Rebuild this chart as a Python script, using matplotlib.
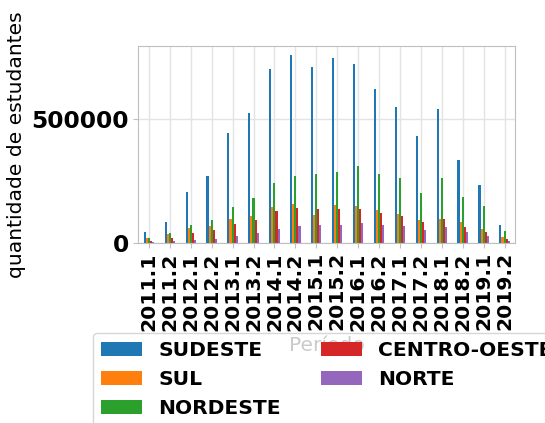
import matplotlib
matplotlib.use('Agg')
from matplotlib import pyplot as plt
import pandas as pd

periodos = ['2011.1', '2011.2', '2012.1', '2012.2', '2013.1', '2013.2',
            '2014.1', '2014.2', '2015.1', '2015.2', '2016.1', '2016.2',
            '2017.1', '2017.2', '2018.1', '2018.2', '2019.1', '2019.2']

sudeste = [41000, 83000, 204000, 270000, 443000, 524000, 703000, 759000, 711000,
           748000, 725000, 623000, 551000, 431000, 542000, 335000, 233000, 70000]
sul = [19000, 35000, 58000, 68000, 95000, 107000, 145000, 157000, 112000,
       153000, 149000, 132000, 116000, 92000, 96000, 82000, 55000, 23000]
nordeste = [18000, 39000, 73000, 91000, 143000, 180000, 242000, 271000, 278000,
            284000, 310000, 278000, 260000, 199000, 260000, 183000, 148000, 46000]
centro_oeste = [5000, 17600, 38000, 49000, 76000, 92000, 126000, 139000, 135000,
                135000, 135000, 120000, 108000, 85000, 94000, 62000, 41000, 13000]
norte = [1500, 5000, 12000, 15000, 26000, 38000, 55000, 66000, 69000,
         70000, 78000, 70000, 66000, 50000, 63000, 43000, 28000, 8000]

df = pd.DataFrame({'SUDESTE': sudeste, 'SUL': sul, 'NORDESTE': nordeste,
                   'CENTRO-OESTE': centro_oeste, 'NORTE': norte}, index=periodos)

plt.rcParams['axes.edgecolor'] = '#bfbfbf'
plt.rcParams['xtick.color'] = '#bfbfbf'
plt.rcParams['ytick.color'] = '#bfbfbf'
plt.rcParams['xtick.labelcolor'] = 'black'
plt.rcParams['ytick.labelcolor'] = 'black'

fig = plt.figure(figsize=(5.45, 4.23), dpi=100)
ax = fig.add_axes([0.254, 0.4267, 0.691, 0.4646])

df.plot.bar(ax=ax, legend=False)

ax.grid(True, color='#e3e3e3', linewidth=1)
ax.set_axisbelow(True)
ax.set_yticks([0, 500000])
for lbl in ax.get_xticklabels():
    lbl.set_fontsize(14.6)
    lbl.set_fontweight('bold')
for lbl in ax.get_yticklabels():
    lbl.set_fontsize(16.8)
    lbl.set_fontweight('bold')

ax.set_xlabel('Período', fontsize=14.6)
ax.set_ylabel('quantidade de estudantes', fontsize=14.6)

fig.legend(loc='upper left', bbox_to_anchor=(0.171, 0.213), ncol=2,
           borderaxespad=0, prop={'size': 14.6, 'weight': 'bold'})

fig.savefig('out.png', dpi=100)
